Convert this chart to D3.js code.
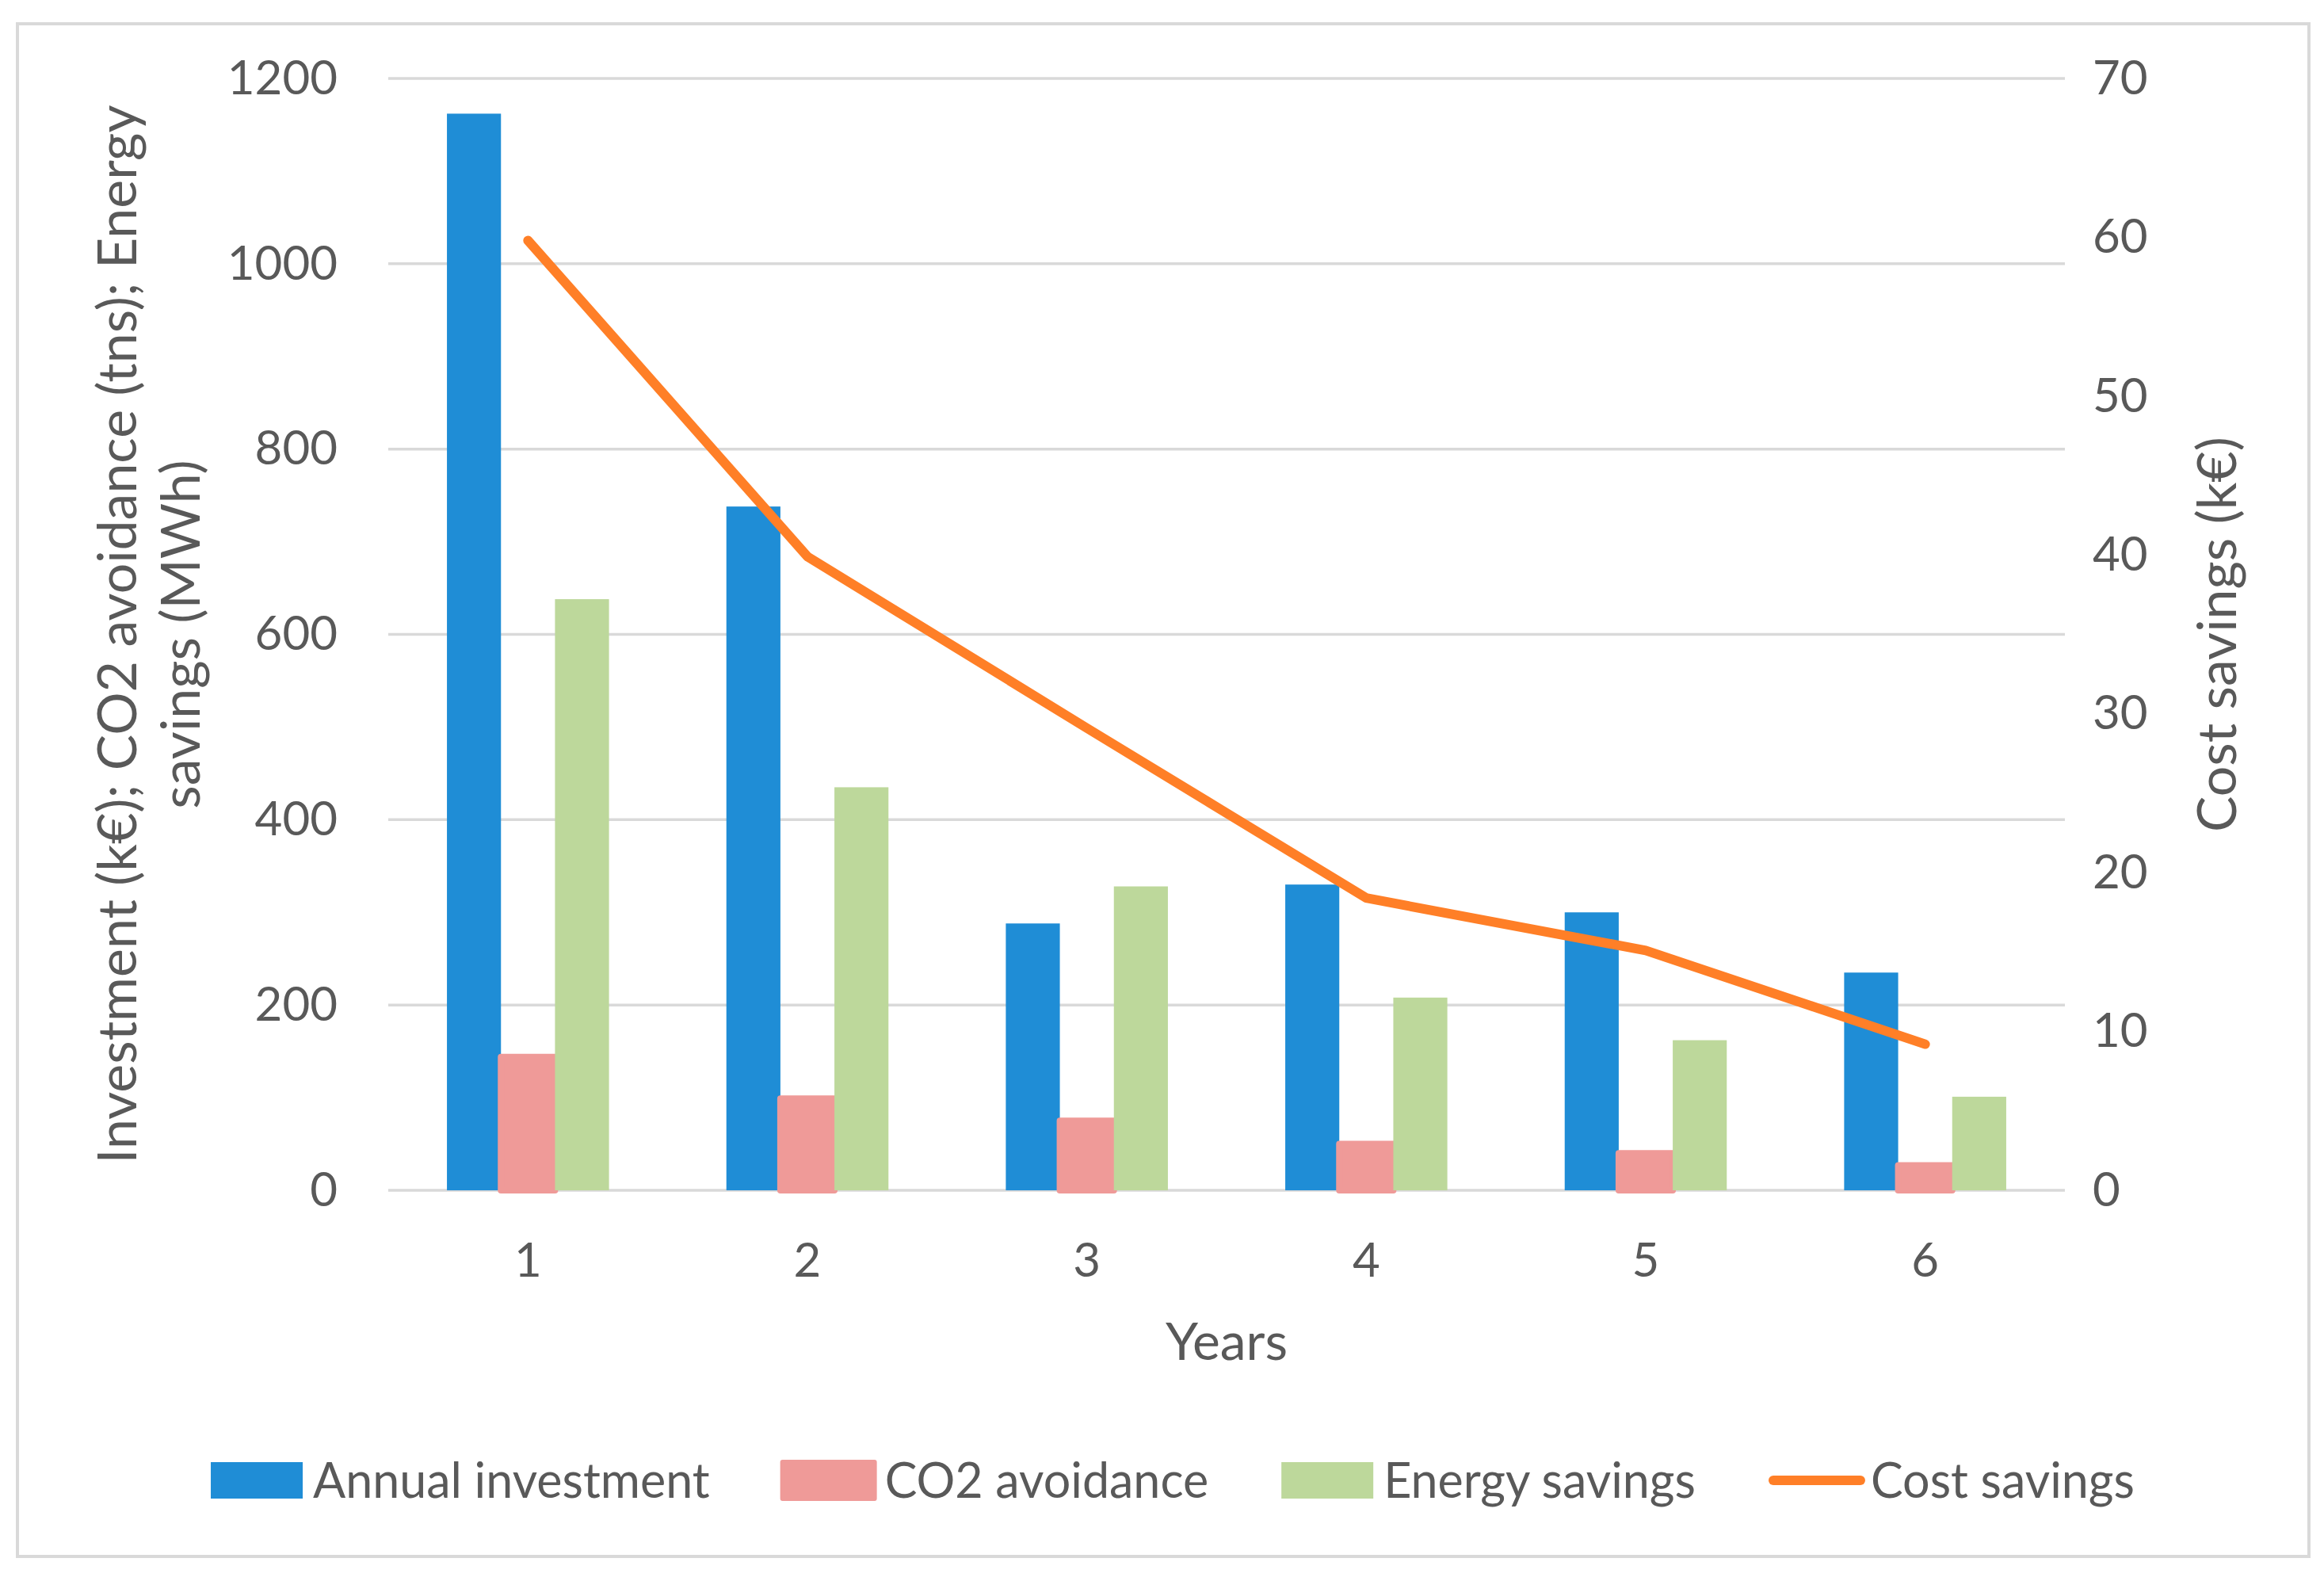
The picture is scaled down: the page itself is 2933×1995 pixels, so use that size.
<!DOCTYPE html>
<html>
<head>
<meta charset="utf-8">
<script src="https://cdn.jsdelivr.net/npm/d3@7"></script>
<style>
  body { margin: 0; background: #fff; }
  text { font-family: Lato, "Open Sans", sans-serif; fill: #595959; }
</style>
</head>
<body>
<svg id="chart"></svg>
<script>
const years = ["1", "2", "3", "4", "5", "6"];
const investment = [1162, 738, 288, 330, 300, 235];
const co2 = [144, 99, 75, 50, 40, 27];
const energy = [638, 435, 328, 208, 162, 101];
const costSavings = [59.8, 39.9, 29.1, 18.4, 15.1, 9.2];
const leftTicks = [0, 200, 400, 600, 800, 1000, 1200];
const rightTicks = [0, 10, 20, 30, 40, 50, 60, 70];

const barSeries = [
    {name: "Annual investment", values: investment, color: "#1f8dd6"},
    {name: "CO2 avoidance", values: co2, color: "#ef9a98"},
    {name: "Energy savings", values: energy, color: "#bdd89b"}
];
const lineColor = "#ff7f27";

const W = 2933, H = 1995;
const svg = d3.select("#chart").attr("width", W).attr("height", H);
const plot = {left: 490, right: 2606, top: 99, bottom: 1502};
const tickSize = 60, titleSize = 68, legendSize = 61;

// chart frame
svg.append("rect")
    .attr("x", 22).attr("y", 30)
    .attr("width", 2892).attr("height", 1934)
    .attr("fill", "#fff")
    .attr("stroke", "#d9d9d9")
    .attr("stroke-width", 4);

const x = d3.scaleBand().domain(years).range([plot.left, plot.right]);
const x1 = d3.scaleBand()
    .domain(barSeries.map(d => d.name))
    .range([0, x.bandwidth() * 0.58]);
const yLeft = d3.scaleLinear().domain([0, 1200]).range([plot.bottom, plot.top]);
const yRight = d3.scaleLinear().domain([0, 70]).range([plot.bottom, plot.top]);

// gridlines
svg.append("g")
    .selectAll("line")
    .data(leftTicks)
    .join("line")
        .attr("x1", plot.left).attr("x2", plot.right)
        .attr("y1", d => yLeft(d)).attr("y2", d => yLeft(d))
        .attr("stroke", "#d9d9d9")
        .attr("stroke-width", 3.5);

// axes
const leftAxis = svg.append("g")
    .attr("transform", `translate(${plot.left - 64},0)`)
    .call(d3.axisLeft(yLeft).tickValues(leftTicks).tickFormat(d3.format("d")).tickSize(0).tickPadding(0));
const rightAxis = svg.append("g")
    .attr("transform", `translate(${plot.right + 35},0)`)
    .call(d3.axisRight(yRight).tickValues(rightTicks).tickFormat(d3.format("d")).tickSize(0).tickPadding(0));
const bottomAxis = svg.append("g")
    .attr("transform", `translate(0,${plot.bottom + 66})`)
    .call(d3.axisBottom(x).tickSize(0).tickPadding(0));

[leftAxis, rightAxis, bottomAxis].forEach(a => {
    a.select(".domain").remove();
    a.selectAll("text")
        .style("font-size", tickSize + "px")
        .attr("fill", "#595959");
});

// bars
const groupOffset = (x.bandwidth() - x1.range()[1]) / 2;
barSeries.forEach(s => {
    const isPink = s.name === "CO2 avoidance";
    svg.append("g")
        .selectAll("rect")
        .data(years.map((yr, i) => ({yr, v: s.values[i]})))
        .join("rect")
            .attr("x", d => x(d.yr) + groupOffset + x1(s.name))
            .attr("y", d => yLeft(d.v))
            .attr("width", x1.bandwidth())
            .attr("height", d => plot.bottom - yLeft(d.v))
            .attr("fill", s.color)
            .attr("stroke", isPink ? s.color : "none")
            .attr("stroke-width", isPink ? 8 : 0)
            .attr("stroke-linejoin", "round");
});

// cost savings line
const line = d3.line()
    .x((d, i) => x(years[i]) + x.bandwidth() / 2)
    .y(d => yRight(d));
svg.append("path")
    .datum(costSavings)
    .attr("d", line)
    .attr("fill", "none")
    .attr("stroke", lineColor)
    .attr("stroke-width", 12)
    .attr("stroke-linejoin", "round")
    .attr("stroke-linecap", "round");

// axis titles
const midY = (plot.top + plot.bottom) / 2;
svg.append("text")
    .attr("transform", `translate(172,${midY}) rotate(-90)`)
    .attr("text-anchor", "middle")
    .style("font-size", titleSize + "px")
    .text("Investment (k€); CO2 avoidance (tns); Energy");
svg.append("text")
    .attr("transform", `translate(252,${midY}) rotate(-90)`)
    .attr("text-anchor", "middle")
    .style("font-size", titleSize + "px")
    .text("savings (MWh)");
svg.append("text")
    .attr("transform", `translate(2822,${midY}) rotate(-90)`)
    .attr("text-anchor", "middle")
    .style("font-size", titleSize + "px")
    .text("Cost savings (k€)");
svg.append("text")
    .attr("x", (plot.left + plot.right) / 2)
    .attr("y", 1716)
    .attr("text-anchor", "middle")
    .style("font-size", (titleSize - 2) + "px")
    .text("Years");

// legend
const legendItems = barSeries.map(s => ({name: s.name, color: s.color, type: "bar"}))
    .concat([{name: "Cost savings", color: lineColor, type: "line"}]);
const legend = svg.append("g");
let cursor = 0;
const legendY = 1868;
legendItems.forEach(it => {
    const g = legend.append("g").attr("transform", `translate(${cursor},0)`);
    if (it.type === "bar") {
        g.append("rect")
            .attr("x", 0).attr("y", legendY - 23)
            .attr("width", 116).attr("height", 46)
            .attr("fill", it.color)
            .attr("stroke", it.name === "CO2 avoidance" ? it.color : "none")
            .attr("stroke-width", it.name === "CO2 avoidance" ? 6 : 0)
            .attr("stroke-linejoin", "round");
    } else {
        g.append("line")
            .attr("x1", 6).attr("x2", 116)
            .attr("y1", legendY).attr("y2", legendY)
            .attr("stroke", it.color)
            .attr("stroke-width", 12)
            .attr("stroke-linecap", "round");
    }
    const t = g.append("text")
        .attr("x", 129).attr("y", legendY + 22)
        .style("font-size", legendSize + "px")
        .text(it.name);
    cursor += 129 + t.node().getComputedTextLength() + 92;
});
const legendWidth = cursor - 92;
legend.attr("transform", `translate(${1480 - legendWidth / 2},0)`);
</script>
</body>
</html>
